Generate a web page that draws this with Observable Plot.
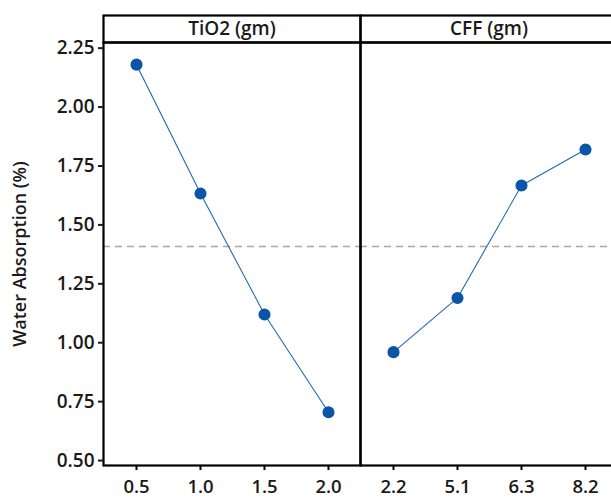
<!DOCTYPE html>
<html>
<head>
<meta charset="utf-8">
<script src="https://cdn.jsdelivr.net/npm/d3@7"></script>
<script src="https://cdn.jsdelivr.net/npm/@observablehq/plot@0.6"></script>
<style>
  html, body { margin: 0; padding: 0; background: #fff; overflow: hidden; }
  svg { display: block; }
</style>
</head>
<body>
<div id="chart"></div>
<script>
const factors = ["TiO2 (gm)", "CFF (gm)"];
const tio2Levels = ["0.5", "1.0", "1.5", "2.0"];
const tio2Means = [2.18, 1.633, 1.12, 0.705];
const cffLevels = ["2.2", "5.1", "6.3", "8.2"];
const cffMeans = [0.96, 1.19, 1.667, 1.82];
const grandMean = 1.408;
const yTicks = [0.5, 0.75, 1.0, 1.25, 1.5, 1.75, 2.0, 2.25];

const rows = [
  ...tio2Levels.map((l, i) => ({factor: factors[0], idx: i, label: l, value: tio2Means[i]})),
  ...cffLevels.map((l, i) => ({factor: factors[1], idx: i, label: l, value: cffMeans[i]}))
];

const W = 611, H = 498;
const mTop = 42, mBottom = 33, frameH = H - mTop - mBottom;
const font = "'Open Sans', 'Noto Sans', sans-serif";
const ink = "#1a1a1a";
const blue = "#0A55A8";

const chart = Plot.plot({
  width: W,
  height: H,
  marginLeft: 103,
  marginRight: -6,
  marginTop: mTop,
  marginBottom: mBottom,
  style: {fontFamily: font, fontSize: "19px", color: ink, background: "#fff"},
  fx: {domain: factors, padding: 0, axis: null},
  x: {type: "point", domain: [0, 1, 2, 3], padding: 0.5, axis: null},
  y: {domain: [0.479, 2.274], axis: null},
  marks: [
    Plot.ruleY([grandMean], {stroke: "#a8a8a8", strokeWidth: 1.5, strokeDasharray: "7,5"}),
    Plot.line(rows, {x: "idx", y: "value", fx: "factor", stroke: "#2566B5", strokeWidth: 1.1}),
    Plot.dot(rows, {x: "idx", y: "value", fx: "factor", r: 5.3, fill: blue, stroke: blue}),
    Plot.frame({stroke: "#000", strokeWidth: 2.2}),
    Plot.frame({stroke: "#000", strokeWidth: 2.2, insetTop: -27, insetBottom: frameH}),
    Plot.text(factors, {fx: d => d, text: d => d, frameAnchor: "top", lineAnchor: "middle", dy: -14, fontSize: 19, fontWeight: 600, fill: ink}),
    Plot.ruleX(rows, {x: "idx", fx: "factor", stroke: "#000", strokeWidth: 2, insetTop: frameH, insetBottom: -5}),
    Plot.text(rows, {x: "idx", fx: "factor", text: "label", frameAnchor: "bottom", dy: 22, lineAnchor: "middle", fontSize: 18.5, fontWeight: 600, fill: ink}),
    Plot.axisY({facetAnchor: "left", anchor: "left", ticks: yTicks, tickFormat: d3.format(".2f"), tickSize: 5, tickPadding: 4, strokeWidth: 2, fontSize: 19, fontWeight: 600, fill: ink, label: null}),
    Plot.axisY({facetAnchor: "left", anchor: "left", ticks: [], label: "Water Absorption (%)", labelAnchor: "center", labelOffset: 90, labelArrow: "none", fontSize: 18, fontWeight: 600, fill: ink})
  ]
});
document.getElementById("chart").appendChild(chart);
</script>
</body>
</html>
